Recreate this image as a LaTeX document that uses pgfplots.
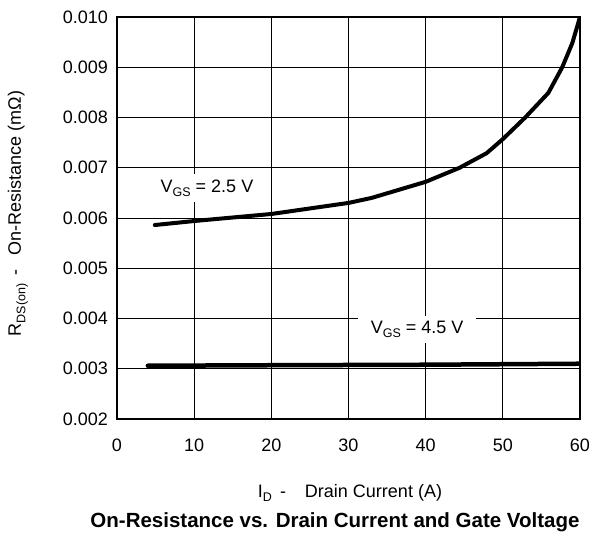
\documentclass[border=0pt]{standalone}
\usepackage{fontspec}
\setmainfont{Liberation Sans}
\usepackage{pgfplots}
\pgfplotsset{compat=1.18}
\newcommand{\tsize}{\fontsize{18}{21}\selectfont}
\newcommand{\subs}[1]{\raisebox{-4.5pt}{\fontsize{12.5}{14}\selectfont #1}}
\begin{document}
\begin{tikzpicture}
\useasboundingbox (-117pt,-114pt) rectangle (478pt,419pt);
\begin{axis}[
  at={(0pt,0pt)}, anchor=south west,
  scale only axis, width=463pt, height=402pt,
  xmin=0, xmax=60, ymin=0.002, ymax=0.010,
  xtick={0,10,20,30,40,50,60},
  ytick={0.002,0.003,0.004,0.005,0.006,0.007,0.008,0.009,0.010},
  scaled y ticks=false,
  yticklabel style={/pgf/number format/fixed, /pgf/number format/fixed zerofill, /pgf/number format/precision=3},
  /pgf/number format/assume math mode=true,
  tick label style={font=\tsize},
  yticklabel style={anchor=east, inner sep=0pt, xshift=-9pt},
  xticklabel style={anchor=north, inner sep=0pt, yshift=-20pt},
  major tick length=0pt,
  grid=major, major grid style={black, line width=1pt},
  axis line style={line width=2.5pt},
]
\addplot[black, line width=4pt, line cap=round, line join=round] coordinates {
 (4.9,0.00586) (10,0.00594) (20,0.00608) (25,0.00619) (30,0.00630) (33,0.00640)
 (40,0.00672) (44.4,0.00700) (47.9,0.00729) (50,0.00757) (52.9,0.00800)
 (55.9,0.00849) (57.7,0.00900) (59,0.00948) (60,0.01000)
};
\addplot[black, line width=4.5pt, line cap=round] coordinates {
 (4,0.00306) (20,0.00307) (40,0.00308) (60,0.00310)
};
\node[fill=white, inner xsep=5pt, inner ysep=5pt, anchor=base, font=\tsize] at (axis cs:11.66,0.006517) {V\subs{GS} = 2.5 V};
\node[fill=white, inner xsep=13pt, inner ysep=5pt, anchor=base, font=\tsize] at (axis cs:38.9,0.003711) {V\subs{GS} = 4.5 V};
\end{axis}
\node[anchor=base, font=\tsize] at (233pt,-78pt) {I\subs{D}\hspace{8pt}-\hspace{19pt}Drain Current (A)};
\node[anchor=base, font=\fontsize{20.5}{24}\bfseries\selectfont] at (218pt,-108pt) {On-Resistance vs. Drain Current and Gate Voltage};
\node[rotate=90, anchor=base, font=\tsize] at (-96pt,205.5pt) {R\subs{DS(on)}\hspace{8pt}-\hspace{14pt}On-Resistance (mΩ)};
\end{tikzpicture}
\end{document}
